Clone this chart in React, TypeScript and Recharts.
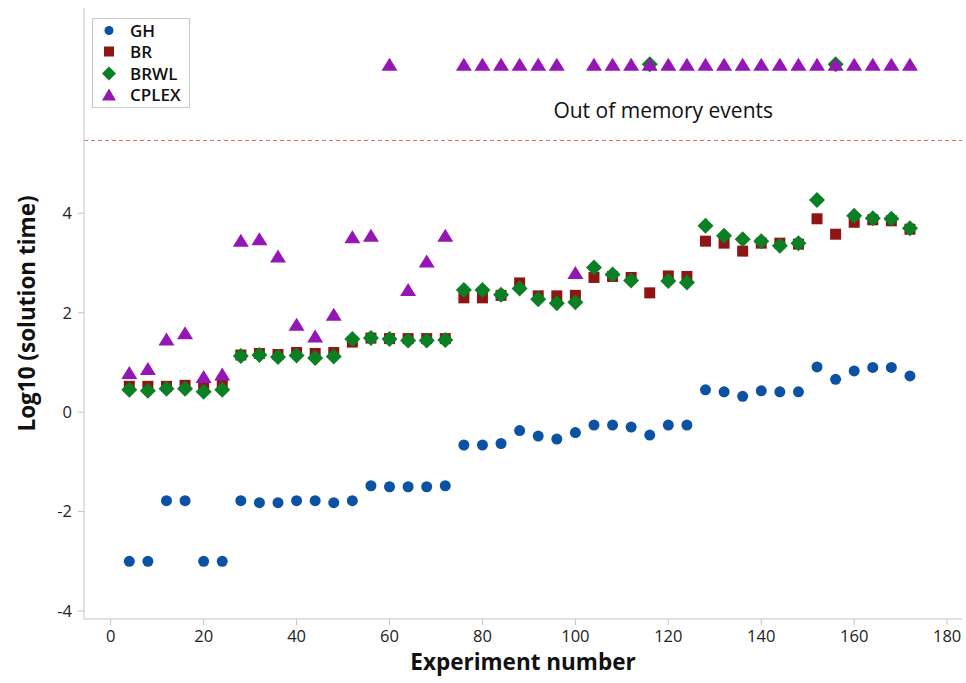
import { ScatterChart, Scatter, XAxis, YAxis, ReferenceLine, ReferenceDot, Label } from "recharts";

const experiments = [
  4, 8, 12, 16, 20, 24, 28, 32, 36, 40, 44, 48, 52, 56, 60, 64, 68, 72, 76, 80, 84, 88,
  92, 96, 100, 104, 108, 112, 116, 120, 124, 128, 132, 136, 140, 144, 148, 152, 156, 160, 164, 168, 172,
];

// log10 of solution time; null = out of memory (drawn in the band at the top)
const ghTimes = [
  -3.0, -3.0, -1.78, -1.78, -3.0, -3.0, -1.78, -1.82, -1.82, -1.78, -1.78, -1.82, -1.78, -1.48, -1.5,
  -1.5, -1.5, -1.48, -0.66, -0.66, -0.63, -0.37, -0.48, -0.54, -0.41, -0.26, -0.26, -0.3, -0.46, -0.26,
  -0.26, 0.45, 0.41, 0.32, 0.43, 0.41, 0.41, 0.91, 0.66, 0.83, 0.9, 0.9, 0.73,
];
const brTimes = [
  0.52, 0.52, 0.52, 0.54, 0.51, 0.54, 1.15, 1.18, 1.16, 1.2, 1.18, 1.2, 1.41, 1.49, 1.48, 1.48, 1.48,
  1.48, 2.3, 2.3, 2.35, 2.6, 2.34, 2.34, 2.35, 2.71, 2.73, 2.71, 2.4, 2.74, 2.73, 3.44, 3.4, 3.24, 3.4,
  3.4, 3.38, 3.89, 3.58, 3.82, 3.87, 3.85, 3.68,
];
const brwlTimes = [
  0.45, 0.43, 0.47, 0.47, 0.41, 0.45, 1.13, 1.15, 1.11, 1.14, 1.09, 1.12, 1.47, 1.49, 1.47, 1.44, 1.44,
  1.45, 2.46, 2.46, 2.36, 2.49, 2.27, 2.19, 2.21, 2.91, 2.77, 2.65, null, 2.64, 2.61, 3.75, 3.55, 3.48,
  3.44, 3.35, 3.4, 4.27, null, 3.95, 3.9, 3.89, 3.7,
];
const cplexTimes = [
  0.8, 0.88, 1.47, 1.6, 0.72, 0.77, 3.46, 3.49, 3.14, 1.77, 1.53, 1.97, 3.53, 3.56, null, 2.47, 3.04,
  3.56, null, null, null, null, null, null, 2.81, null, null, null, null, null, null, null, null, null,
  null, null, null, null, null, null, null, null, null,
];

const OOM_LEVEL = 7;
const MEMORY_LIMIT = 5.465;
const xTicks = [0, 20, 40, 60, 80, 100, 120, 140, 160, 180];
const yTicks = [-4, -2, 0, 2, 4];

const COLORS = { gh: "#0b52a5", br: "#8f1515", brwl: "#0a7f24", cplex: "#9316b5" };
const FONT = "'Open Sans', 'Noto Sans', sans-serif";
const AXIS_GRAY = "#c4c4c4";

const toPoints = (vals: (number | null)[]) =>
  experiments.map((x, i) => ({ x, y: vals[i] == null ? OOM_LEVEL : vals[i] }));

const CircleMark = ({ cx, cy, fill, r = 5.5 }: any) => <circle cx={cx} cy={cy} r={r} fill={fill} />;
const SquareMark = ({ cx, cy, fill, s = 11 }: any) => (
  <rect x={cx - s / 2} y={cy - s / 2} width={s} height={s} fill={fill} />
);
const DiamondMark = ({ cx, cy, fill, d = 8 }: any) => (
  <polygon points={`${cx},${cy - d} ${cx + d},${cy} ${cx},${cy + d} ${cx - d},${cy}`} fill={fill} />
);
const TriangleMark = ({ cx, cy, fill, w = 16, h = 13 }: any) => (
  <polygon points={`${cx},${cy - h / 2} ${cx + w / 2},${cy + h / 2} ${cx - w / 2},${cy + h / 2}`} fill={fill} />
);

const legendItems = [
  { name: "GH", color: COLORS.gh, Mark: CircleMark, size: { r: 4.5 } },
  { name: "BR", color: COLORS.br, Mark: SquareMark, size: { s: 10 } },
  { name: "BRWL", color: COLORS.brwl, Mark: DiamondMark, size: { d: 7 } },
  { name: "CPLEX", color: COLORS.cplex, Mark: TriangleMark, size: { w: 14, h: 12 } },
];

const YTitle = ({ viewBox }: any) => {
  const cx = 26;
  const cy = viewBox.y + viewBox.height / 2;
  return (
    <text x={cx} y={cy} transform={`rotate(-90 ${cx} ${cy})`} textAnchor="middle" dominantBaseline="central"
      fontFamily={FONT} fontWeight={700} fontSize={22.5} fill="#111">
      Log10 (solution time)
    </text>
  );
};

const XTitle = ({ viewBox }: any) => (
  <text x={viewBox.x + viewBox.width / 2} y={670} textAnchor="middle" fontFamily={FONT} fontWeight={700}
    fontSize={22.5} fill="#111">
    Experiment number
  </text>
);

export default function App() {
  const tickStyle = { fontFamily: FONT, fontSize: 16.5, fill: "#222" };
  return (
    <div style={{ position: "absolute", left: 0, top: 0, width: 966, height: 683, background: "#fff" }}>
      <ScatterChart width={966} height={683} margin={{ top: 8, right: 4, bottom: 0, left: 24 }}>
        <XAxis
          type="number"
          dataKey="x"
          domain={[-5.75, 183.2]}
          ticks={xTicks}
          allowDataOverflow
          height={64}
          tick={tickStyle}
          tickSize={6}
          tickMargin={5}
          stroke={AXIS_GRAY}
        >
          <Label content={XTitle} />
        </XAxis>
        <XAxis xAxisId="top" orientation="top" type="number" domain={[-5.75, 183.2]} height={0}
          tick={false} tickLine={false} stroke={AXIS_GRAY} />
        <YAxis
          type="number"
          dataKey="y"
          domain={[-4.16, 8.13]}
          ticks={yTicks}
          allowDataOverflow
          width={60}
          tick={tickStyle}
          tickSize={6}
          tickMargin={6}
          stroke={AXIS_GRAY}
        >
          <Label content={YTitle} />
        </YAxis>
        <YAxis yAxisId="right" orientation="right" type="number" domain={[-4.16, 8.13]} width={0}
          tick={false} tickLine={false} stroke={AXIS_GRAY} />
        <ReferenceLine y={MEMORY_LIMIT} stroke="#f06868" strokeOpacity={1} strokeDasharray="4 3" strokeWidth={1} />
        <ReferenceDot
          x={118.9}
          y={6.07}
          r={0}
          fill="none"
          stroke="none"
          label={{ value: "Out of memory events", position: "center", fontFamily: FONT, fontSize: 21, fill: "#111" }}
        />
        <Scatter name="GH" data={toPoints(ghTimes)} fill={COLORS.gh} shape={CircleMark} isAnimationActive={false} />
        <Scatter name="BR" data={toPoints(brTimes)} fill={COLORS.br} shape={SquareMark} isAnimationActive={false} />
        <Scatter name="BRWL" data={toPoints(brwlTimes)} fill={COLORS.brwl} shape={DiamondMark} isAnimationActive={false} />
        <Scatter name="CPLEX" data={toPoints(cplexTimes)} fill={COLORS.cplex} shape={TriangleMark} isAnimationActive={false} />
      </ScatterChart>

      <div
        style={{
          position: "absolute",
          left: 92,
          top: 18,
          width: 96,
          height: 88,
          border: "1px solid #c9c9c9",
          background: "#fff",
          fontFamily: FONT,
          fontWeight: 600,
          fontSize: 17,
          color: "#111",
        }}
      >
        {legendItems.map((item, i) => (
          <div key={item.name} style={{ position: "absolute", left: 0, top: 1 + i * 21.4, height: 21, width: 96 }}>
            <svg width={20} height={21} style={{ position: "absolute", left: 6, top: 0 }}>
              <item.Mark cx={10} cy={10.5} fill={item.color} {...item.size} />
            </svg>
            <span style={{ position: "absolute", left: 37, top: 0, lineHeight: "21px" }}>{item.name}</span>
          </div>
        ))}
      </div>
    </div>
  );
}
